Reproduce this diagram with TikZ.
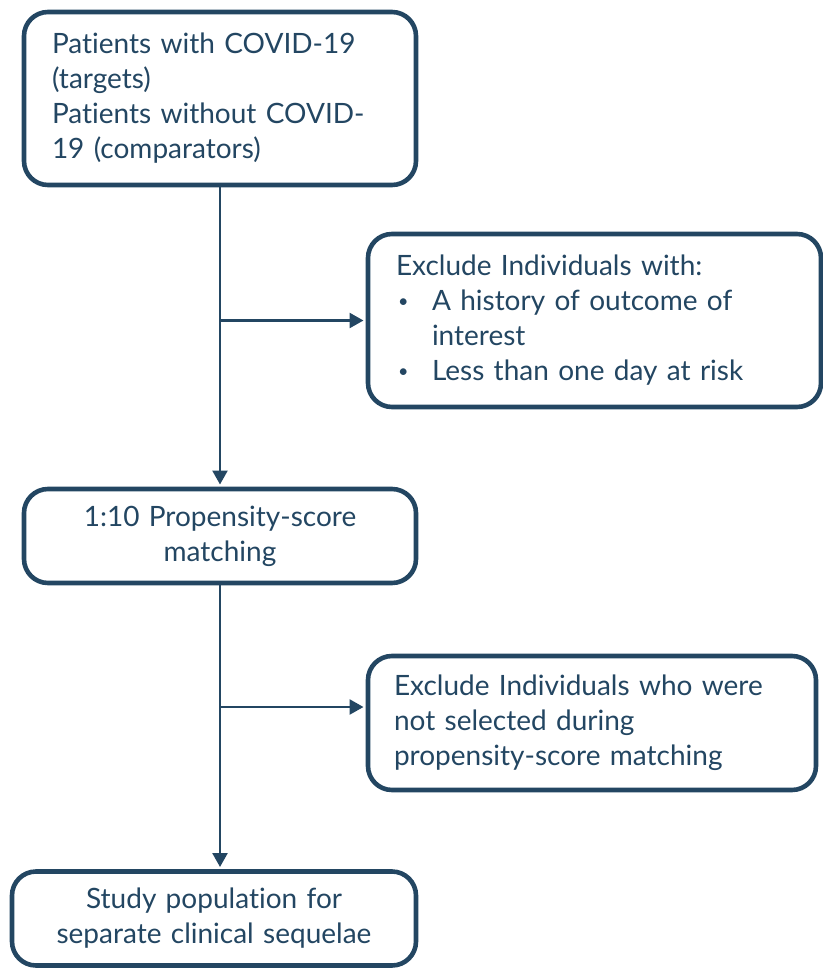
\documentclass[tikz,border=0pt]{standalone}
\usepackage{fontspec}
\setmainfont{Lato}[Ligatures=NoCommon]
\usepackage{xcolor}
\usepackage{tikz}
\usetikzlibrary{
  arrows.meta,
  positioning,
  calc
}
\definecolor{navy}{RGB}{35,70,98}
\newcommand{\smallbul}{\hspace*{1pt}\makebox[17pt][l]{\raisebox{1.5pt}{\fontsize{9}{9}\selectfont\textbullet}}}

\begin{document}
\begin{tikzpicture}[
  x=0.5pt, y=-0.5pt,
  stage/.style={rectangle, draw=navy, line width=2.3pt, rounded corners=12pt, text=navy, font=\fontsize{14}{17.5}\selectfont, inner xsep=14pt, inner ysep=0pt},
  pipe/.style={draw=navy, line width=1.3pt, shorten >=1.1pt, -{Triangle[length=7pt, width=7.5pt]}},
]
\useasboundingbox (0,0) rectangle (823,969);

\node[stage, align=left, text width=168pt, minimum height=86.5pt] (patients) at (220,98.5) {Patients with COVID-19\\(targets)\\Patients without COVID-\\19 (comparators)};
\node[stage, align=left, text width=198.5pt, minimum height=86.5pt] (exclude1) at (594.5,320.5) {Exclude Individuals with:\\
  \smallbul A history of outcome of\\
  \hspace*{18pt}interest\\
  \smallbul Less than one day at risk};
\node[stage, align=center, text width=168pt, minimum height=47pt] (matching) at (220,536) {1:10 Propensity-score\\matching};
\node[stage, align=left, inner xsep=13pt, text width=198pt, minimum height=67pt] (exclude2) at (592,723) {Exclude Individuals who were\\not selected during\\propensity-score matching};
\node[stage, align=center, text width=174pt, minimum height=47pt] (study) at (214,918.5) {Study population for\\separate clinical sequelae};

% trunk and side exits
\draw[pipe] (patients) -- (matching);
\draw[pipe] (patients.south |- exclude1.west) -- (exclude1.west);
\draw[pipe] (matching.south) -- (matching.south |- study.north);
\coordinate (split) at (220,707);
\draw[pipe] (split) -- (split -| exclude2.west);
\end{tikzpicture}
\end{document}
